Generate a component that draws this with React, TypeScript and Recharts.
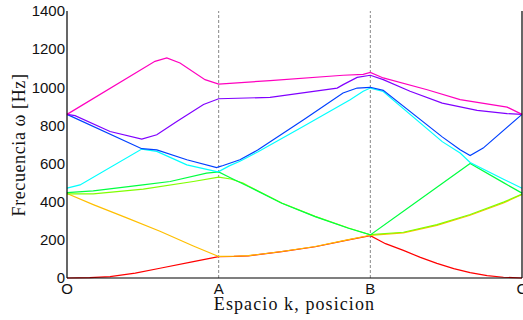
import React from 'react';
import { LineChart, Line, XAxis, YAxis, ReferenceLine } from 'recharts';

const kTicks = [0, 1, 2, 3];
const kLabels = ['O', 'A', 'B', 'C'];
const freqTicks = [0, 200, 400, 600, 800, 1000, 1200, 1400];
const xTitle = 'Espacio k, posicion';
const yTitle = 'Frecuencia ω [Hz]';

// [k position, frequency Hz]
const band1: [number, number][] = [
  [0, 0], [0.15, 2], [0.284, 7], [0.45, 26], [0.613, 51], [0.833, 86], [1, 112],
  [1.1, 113], [1.196, 116], [1.416, 138], [1.636, 164], [1.856, 200], [2, 222],
  [2.1, 180], [2.218, 145], [2.33, 108], [2.439, 77], [2.55, 49], [2.658, 28], [2.77, 12], [2.878, 4], [3, 0],
];
const band2: [number, number][] = [
  [0, 443], [0.173, 385], [0.394, 315], [0.613, 245], [0.833, 168], [1, 113],
  [1.1, 114], [1.196, 117], [1.416, 139], [1.636, 165], [1.856, 201], [2, 224],
  [2.218, 237], [2.439, 276], [2.658, 329], [2.878, 393], [3, 438],
];
const band3: [number, number][] = [
  [0, 441], [0.173, 441], [0.503, 466], [0.833, 506], [1, 529],
  [1.08, 519], [1.16, 498], [1.196, 482], [1.416, 393], [1.636, 323], [1.856, 262], [2, 227],
  [2.218, 240], [2.439, 280], [2.658, 333], [2.878, 398], [3, 440],
];
const band4: [number, number][] = [
  [0, 448], [0.173, 457], [0.5, 488], [0.68, 506], [0.92, 550], [1, 556],
  [1.08, 524], [1.196, 480], [1.416, 392], [1.636, 322], [1.856, 261], [2, 226],
  [2.218, 350], [2.439, 476], [2.658, 600], [2.878, 500], [3, 445],
];
const band5: [number, number][] = [
  [0, 471], [0.086, 488], [0.493, 676], [0.592, 664], [0.79, 593], [0.987, 558], [1, 558],
  [1.07, 588], [1.14, 612], [1.26, 662], [1.56, 796], [1.867, 935], [1.953, 979], [2, 996],
  [2.085, 978], [2.474, 715], [2.592, 655], [2.658, 606], [2.878, 518], [3, 471],
];
const band6: [number, number][] = [
  [0, 858], [0.493, 678], [0.592, 672], [0.79, 620], [0.987, 579], [1, 583],
  [1.03, 590], [1.14, 620], [1.26, 672], [1.56, 830], [1.82, 970], [1.913, 996], [2, 1000],
  [2.085, 984], [2.474, 740], [2.592, 672], [2.658, 642], [2.744, 681], [3, 858],
];
const band7: [number, number][] = [
  [0, 858], [0.053, 851], [0.284, 768], [0.493, 728], [0.592, 751], [0.724, 821], [0.9, 910], [1, 940],
  [1.339, 947], [1.781, 996], [1.821, 1014], [1.913, 1052], [2, 1063],
  [2.085, 1040], [2.262, 979], [2.474, 917], [2.704, 879], [2.902, 862], [3, 858],
];
const band8: [number, number][] = [
  [0, 858], [0.58, 1136], [0.658, 1154], [0.745, 1127], [0.91, 1040], [1, 1017],
  [1.339, 1035], [1.821, 1063], [1.953, 1068], [2, 1078],
  [2.085, 1049], [2.375, 987], [2.592, 935], [2.902, 896], [3, 858],
];

const bands = [band1, band2, band3, band4, band5, band6, band7, band8];
const bandColors = ['#ff0000', '#ffbf00', '#80ff00', '#00ff40', '#00ffff', '#0040ff', '#8000ff', '#ff00bf'];

const sans = '"Liberation Sans", Arial, sans-serif';
const serif = '"Liberation Serif", "Times New Roman", serif';

export default function App() {
  const series = bands.map((b) => b.map(([k, f]) => ({ k, f })));
  return (
    <div style={{ position: 'absolute', left: 0, top: 0, width: 523, height: 320, background: '#fff' }}>
      <LineChart width={523} height={320} margin={{ top: 11, right: 1, bottom: 12, left: 0 }}>
        <XAxis
          xAxisId="b"
          dataKey="k"
          type="number"
          domain={[0, 3]}
          ticks={kTicks}
          interval={0}
          tickFormatter={(v: number) => kLabels[kTicks.indexOf(v)]}
          height={30}
          tickSize={0}
          tickMargin={5}
          tickLine={false}
          axisLine={{ stroke: '#000', strokeWidth: 1.2 }}
          tick={{ fill: '#111', fontSize: 15, fontFamily: sans }}
        />
        <XAxis
          xAxisId="t"
          orientation="top"
          mirror
          dataKey="k"
          type="number"
          domain={[0, 3]}
          ticks={kTicks}
          height={0}
          tick={false}
          tickLine={false}
          axisLine={{ stroke: '#000', strokeWidth: 1.2 }}
        />
        <YAxis
          yAxisId="l"
          type="number"
          domain={[0, 1400]}
          ticks={freqTicks}
          interval={0}
          width={67}
          tickSize={0}
          tickMargin={2}
          tickLine={false}
          axisLine={{ stroke: '#000', strokeWidth: 1.2 }}
          tick={{ fill: '#111', fontSize: 15, fontFamily: sans }}
        />
        <YAxis
          yAxisId="lm"
          type="number"
          domain={[0, 1400]}
          ticks={freqTicks}
          interval={0}
          mirror
          tick={false}
          tickSize={5}
          tickLine={{ stroke: '#333' }}
          axisLine={false}
        />
        <YAxis
          yAxisId="r"
          orientation="right"
          type="number"
          domain={[0, 1400]}
          ticks={freqTicks}
          interval={0}
          mirror
          tick={false}
          tickSize={5}
          tickLine={{ stroke: '#333' }}
          axisLine={{ stroke: '#000', strokeWidth: 1.2 }}
        />
        <ReferenceLine xAxisId="b" yAxisId="l" x={1} stroke="#888" strokeDasharray="3 2" />
        <ReferenceLine xAxisId="b" yAxisId="l" x={2} stroke="#888" strokeDasharray="3 2" />
        {series.map((d, i) => (
          <Line
            key={i}
            xAxisId="b"
            yAxisId="l"
            data={d}
            dataKey="f"
            type="linear"
            stroke={bandColors[i]}
            strokeWidth={1.2}
            dot={false}
            activeDot={false}
            isAnimationActive={false}
          />
        ))}
      </LineChart>
      <svg
        width={523}
        height={320}
        style={{ position: 'absolute', left: 0, top: 0, pointerEvents: 'none' }}
      >
        <text x={294.5} y={310} textAnchor="middle" fontFamily={serif} fontSize={18} letterSpacing={1.1} fill="#111">
          {xTitle}
        </text>
        <text
          x={25}
          y={145}
          transform="rotate(-90 25 145)"
          textAnchor="middle"
          fontFamily={serif}
          fontSize={18}
          letterSpacing={0.6}
          fill="#111"
        >
          {yTitle}
        </text>
      </svg>
    </div>
  );
}
